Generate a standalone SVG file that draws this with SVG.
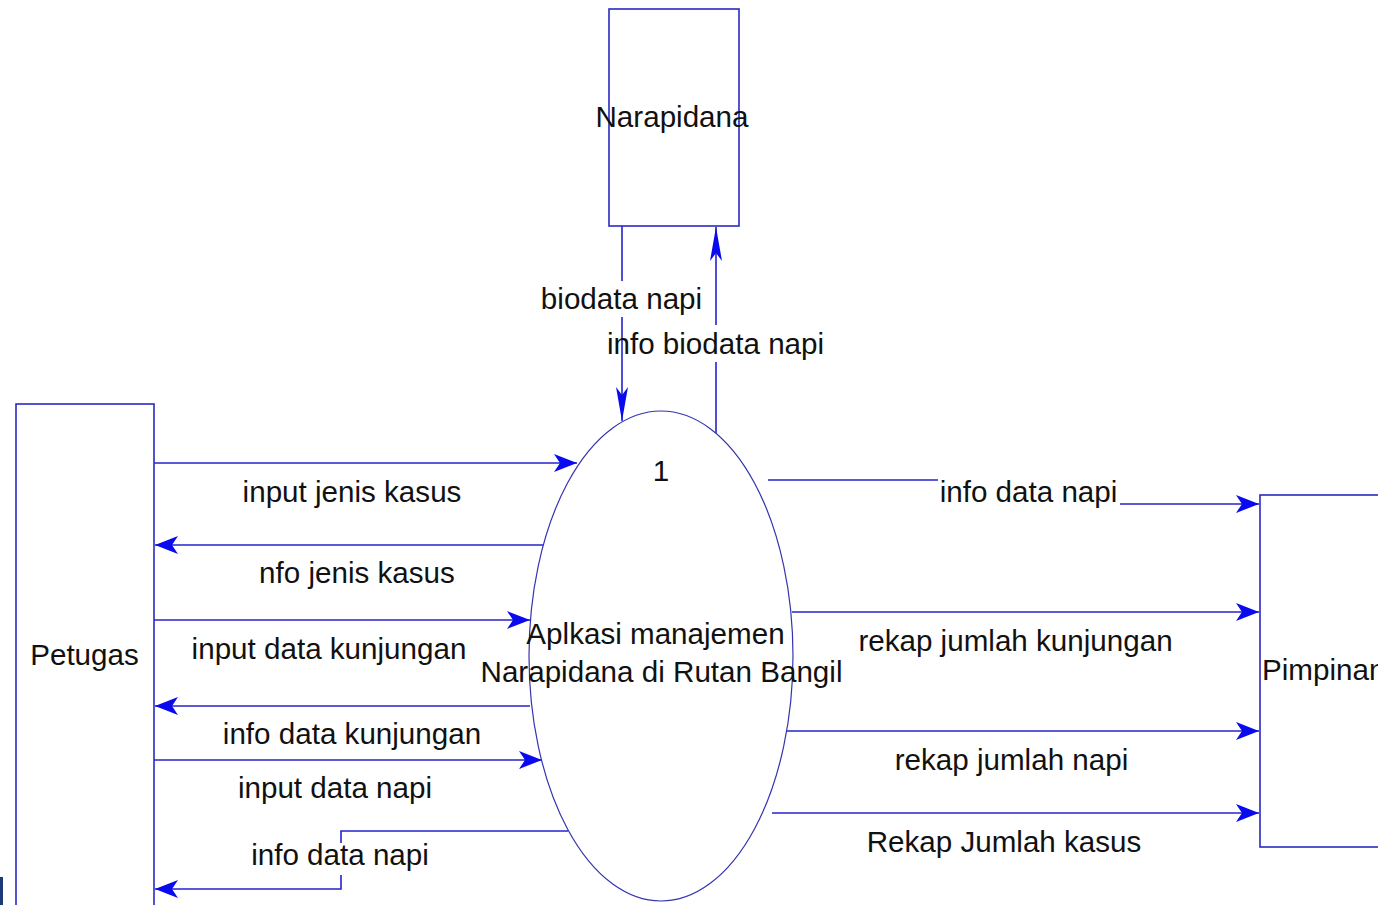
<svg xmlns="http://www.w3.org/2000/svg" width="1378" height="905" viewBox="0 0 1378 905">
<style>
.ent{fill:#ffffff;stroke:#2a2ac4;stroke-width:1.6}
.proc{fill:#ffffff;stroke:#3434b0;stroke-width:1.2}
.flow{fill:none;stroke:#2424cc;stroke-width:1.6}
.t{font-family:"Liberation Sans",Arial,sans-serif;font-size:29.6px;fill:#111111;text-anchor:middle}
.ts{text-anchor:start}
</style>
<defs>
<marker id="ah" markerUnits="userSpaceOnUse" viewBox="0 0 23 18" refX="23" refY="9" markerWidth="23" markerHeight="18" orient="auto">
<path d="M0,0 L23,9 L0,18 L6,9 Z" fill="#0a0aee"/>
</marker>
<marker id="av" markerUnits="userSpaceOnUse" viewBox="0 0 34 12" refX="34" refY="6" markerWidth="34" markerHeight="12" orient="auto">
<path d="M0,0 L34,6 L0,12 L8,6 Z" fill="#0a0aee"/>
</marker>
</defs>
<rect width="1378" height="905" fill="#ffffff"/>
<rect x="0" y="877" width="3" height="28" fill="#1c3a78"/>

<g id="connectors">
<line class="flow" x1="622" y1="226" x2="622" y2="281"/>
<line class="flow" x1="622" y1="317" x2="622" y2="421" marker-end="url(#av)"/>
<line class="flow" x1="716" y1="433" x2="716" y2="362"/>
<line class="flow" x1="716" y1="325" x2="716" y2="227" marker-end="url(#av)"/>
<line class="flow" x1="154" y1="463" x2="577" y2="463" marker-end="url(#ah)"/>
<line class="flow" x1="543" y1="545" x2="155" y2="545" marker-end="url(#ah)"/>
<line class="flow" x1="154" y1="620" x2="530" y2="620" marker-end="url(#ah)"/>
<line class="flow" x1="530" y1="706" x2="155" y2="706" marker-end="url(#ah)"/>
<line class="flow" x1="154" y1="760" x2="542" y2="760" marker-end="url(#ah)"/>
<polyline class="flow" points="568,831 341,831 341,843"/>
<polyline class="flow" points="341,875 341,889 155,889" marker-end="url(#ah)"/>
<line class="flow" x1="768" y1="480" x2="938" y2="480"/>
<line class="flow" x1="1120" y1="504" x2="1259" y2="504" marker-end="url(#ah)"/>
<line class="flow" x1="792" y1="612" x2="1259" y2="612" marker-end="url(#ah)"/>
<line class="flow" x1="787" y1="731" x2="1259" y2="731" marker-end="url(#ah)"/>
<line class="flow" x1="772" y1="813" x2="1259" y2="813" marker-end="url(#ah)"/>
</g>

<g id="labels">
<text class="t" x="621.5" y="309">biodata napi</text>
<text class="t" x="715.5" y="354">info biodata napi</text>
<text class="t" x="352" y="502">input jenis kasus</text>
<text class="t" x="357" y="583">nfo jenis kasus</text>
<text class="t" x="329" y="659">input data kunjungan</text>
<text class="t" x="352" y="744">info data kunjungan</text>
<text class="t" x="335" y="798">input data napi</text>
<text class="t" x="340" y="865">info data napi</text>
<text class="t" x="1028.5" y="502">info data napi</text>
<text class="t" x="1015.5" y="651">rekap jumlah kunjungan</text>
<text class="t" x="1011.5" y="770">rekap jumlah napi</text>
<text class="t" x="1004" y="852">Rekap Jumlah kasus</text>
</g>

<g id="narapidana">
<rect class="ent" x="609" y="9" width="130" height="217"/>
<text class="t" x="672" y="127">Narapidana</text>
</g>

<g id="petugas">
<rect class="ent" x="16" y="404" width="138" height="520"/>
<text class="t" x="84.5" y="665">Petugas</text>
</g>

<g id="pimpinan">
<rect class="ent" x="1260" y="495" width="140" height="352"/>
<text class="t ts" x="1262" y="680">Pimpinan</text>
</g>

<g id="proses1">
<ellipse class="proc" cx="661" cy="656" rx="132" ry="245"/>
<text class="t" x="661" y="481">1</text>
<text class="t" x="655.5" y="644">Aplkasi manajemen</text>
<text class="t" x="661.5" y="682">Narapidana di Rutan Bangil</text>
</g>
</svg>
